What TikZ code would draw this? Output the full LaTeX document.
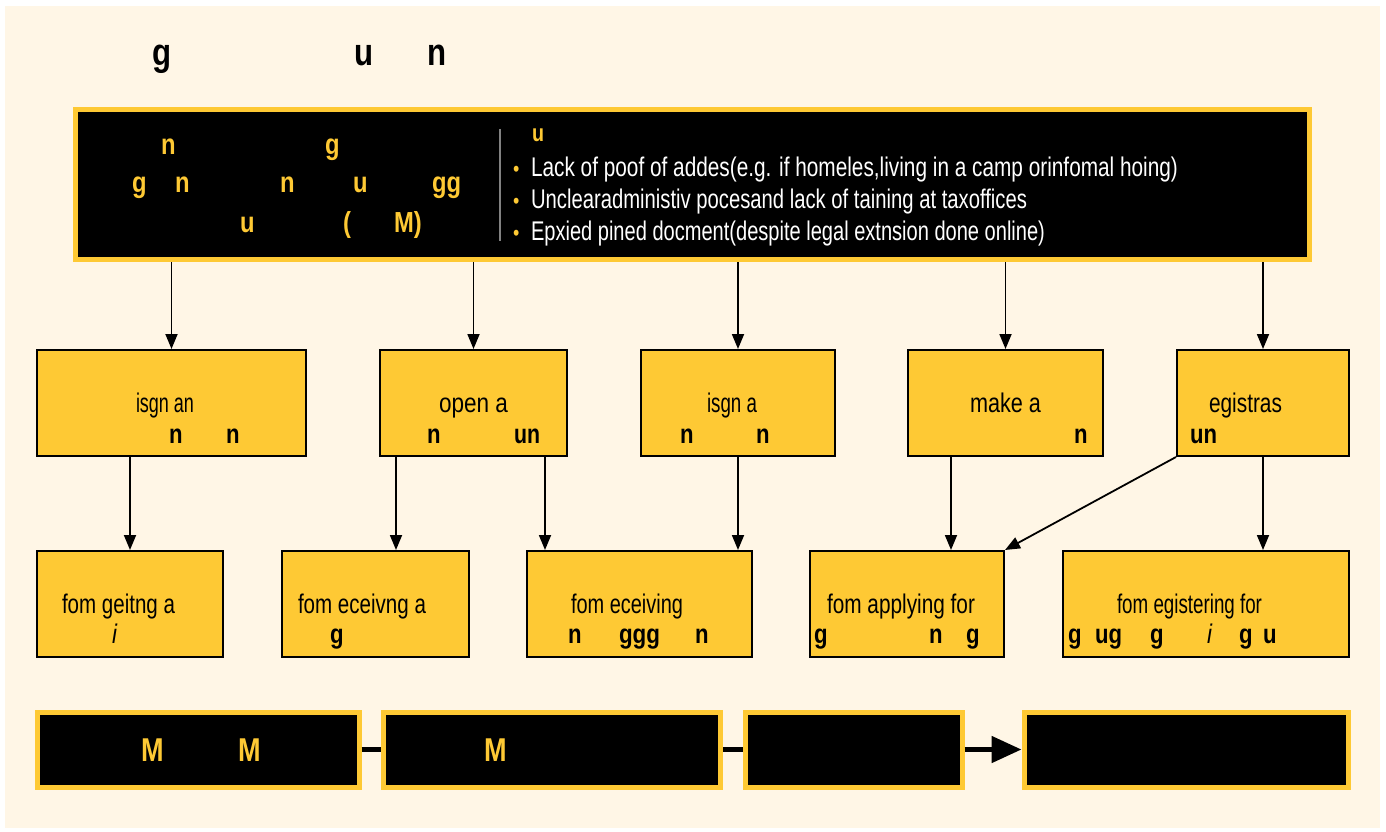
\documentclass[tikz,border=0pt]{standalone}
\usepackage{fontspec}
\usepackage{graphicx}
\setmainfont{Liberation Sans}[FakeStretch=0.82]
\usetikzlibrary{arrows.meta}
\definecolor{cream}{RGB}{255,246,230}
\definecolor{ylw}{RGB}{254,201,52}
\definecolor{sepgray}{RGB}{130,130,130}
\newcommand\fw[2]{\resizebox{#1pt}{\height}{#2}}
\tikzset{
  ybox/.style={draw=black, line width=2pt, fill=ylw, inner sep=0pt},
  kbox/.style={draw=ylw, line width=5pt, fill=black, inner sep=0pt},
  frag/.style={anchor=base west, inner sep=0pt, outer sep=0pt, font=\fontsize{27}{32}\selectfont},
  bfrag/.style={frag, font=\fontsize{27}{32}\selectfont\bfseries},
  yfrag/.style={bfrag, text=ylw, font=\fontsize{29}{32}\selectfont\bfseries},
  wfrag/.style={frag, text=white},
  tfrag/.style={anchor=base west, inner sep=0pt, font=\fontsize{38}{40}\selectfont\bfseries},
  mfrag/.style={anchor=base west, inner sep=0pt, text=ylw, font=\fontsize{33}{36}\selectfont\bfseries},
  arr/.style={line width=1.8pt, -{Triangle[length=15pt,width=12pt]}},
  bigarr/.style={line width=5pt, -{Triangle[length=30pt,width=26pt]}},
  bigline/.style={line width=5pt}
}
\begin{document}
\begin{tikzpicture}[x=1pt,y=-1pt]
\useasboundingbox (0,0) rectangle (1386,832);
\fill[white] (0,0) rectangle (1386,832);
\fill[cream] (5,6) rectangle (1380,828);

% title
\node[tfrag] (ti1) at (152,66) {g};
\node[tfrag] (ti2) at (354,66) {u};
\node[tfrag] (ti3) at (427,66) {n};

% top box
\node[kbox, minimum width=1234pt, minimum height=150pt] (top) at (692.5,184.5) {};
\draw[sepgray, line width=2pt] (500,129) -- (500,241);
\node[yfrag] (a1) at (161,154) {n};
\node[yfrag] (a2) at (325,154) {g};
\node[yfrag] (a3) at (132,192) {g};
\node[yfrag] (a4) at (175,192) {n};
\node[yfrag] (a5) at (280,192) {n};
\node[yfrag] (a6) at (353,192) {u};
\node[yfrag] (a7) at (432,192) {gg};
\node[yfrag] (a8) at (240,232) {u};
\node[yfrag] (a9) at (343,232) {(};
\node[yfrag] (a10) at (394,232) {M)};
\node[yfrag, font=\fontsize{24}{28}\selectfont\bfseries] (r0) at (532,142) {u};
\node[frag, text=ylw] (bl1) at (513,176) {\fontsize{22}{22}\selectfont•};
\node[frag, text=ylw] (bl2) at (513,208) {\fontsize{22}{22}\selectfont•};
\node[frag, text=ylw] (bl3) at (513,240) {\fontsize{22}{22}\selectfont•};
\node[wfrag] (r1) at (531,176) {\fw{647}{Lack of poof of addes(e.g. if homeles,living in a camp orinfomal hoing)}};
\node[wfrag] (r2) at (531,208) {\fw{496}{Unclearadministiv pocesand lack of taining at taxoffices}};
\node[wfrag] (r3) at (531,240) {\fw{514}{Epxied pined docment(despite legal extnsion done online)}};

% middle row
\node[ybox, minimum width=269pt, minimum height=106pt] (b1) at (171.5,403) {};
\node[ybox, minimum width=187pt, minimum height=106pt] (b2) at (473.5,403) {};
\node[ybox, minimum width=194pt, minimum height=106pt] (b3) at (738,403) {};
\node[ybox, minimum width=195pt, minimum height=106pt] (b4) at (1005.5,403) {};
\node[ybox, minimum width=172pt, minimum height=106pt] (b5) at (1263,403) {};

\node[frag] (m1) at (136,412) {\fw{58}{isgn an}};
\node[bfrag] (m1a) at (169,443) {n};
\node[bfrag] (m1b) at (226,443) {n};
\node[frag] (m2) at (439,412) {\fw{69}{open a}};
\node[bfrag] (m2a) at (427,443) {n};
\node[bfrag] (m2b) at (514,443) {\fw{26}{un}};
\node[frag] (m3) at (707,412) {\fw{50}{isgn a}};
\node[bfrag] (m3a) at (680,443) {n};
\node[bfrag] (m3b) at (756,443) {n};
\node[frag] (m4) at (970,412) {\fw{71}{make a}};
\node[bfrag] (m4a) at (1074,443) {n};
\node[frag] (m5) at (1209,412) {\fw{73}{egistras}};
\node[bfrag] (m5a) at (1190,443) {\fw{27}{un}};

% bottom row
\node[ybox, minimum width=186pt, minimum height=106pt] (c1) at (130,604) {};
\node[ybox, minimum width=187pt, minimum height=106pt] (c2) at (375.5,604) {};
\node[ybox, minimum width=225pt, minimum height=106pt] (c3) at (639.5,604) {};
\node[ybox, minimum width=194pt, minimum height=106pt] (c4) at (907,604) {};
\node[ybox, minimum width=286pt, minimum height=106pt] (c5) at (1206,604) {};

\node[frag] (n1) at (62,613) {\fw{113}{fom geitng a}};
\node[frag] (n1b) at (112,643) {\itshape i};
\node[frag] (n2) at (298,613) {\fw{128}{fom eceivng a}};
\node[bfrag] (n2b) at (330,643) {g};
\node[frag] (n3) at (571,613) {\fw{112}{fom eceiving}};
\node[bfrag] (n3a) at (568,643) {n};
\node[bfrag] (n3b) at (619,643) {\fw{41}{ggg}};
\node[bfrag] (n3c) at (695,643) {n};
\node[frag] (n4) at (827,613) {\fw{148}{fom applying for}};
\node[bfrag] (n4a) at (814,643) {g};
\node[bfrag] (n4b) at (929,643) {n};
\node[bfrag] (n4c) at (966,643) {g};
\node[frag] (n5) at (1117,613) {\fw{145}{fom egistering for}};
\node[bfrag] (n5a) at (1068,643) {g};
\node[bfrag] (n5b) at (1095,643) {\fw{27}{ug}};
\node[bfrag] (n5c) at (1150,643) {g};
\node[frag] (n5d) at (1207,643) {\itshape i};
\node[bfrag] (n5e) at (1239,643) {g};
\node[bfrag] (n5f) at (1263,643) {u};

% bottom bar
\node[kbox, minimum width=322pt, minimum height=75pt] (d1) at (198,749.5) {};
\node[kbox, minimum width=337pt, minimum height=75pt] (d2) at (552,749.5) {};
\node[kbox, minimum width=217pt, minimum height=75pt] (d3) at (853.5,749.5) {};
\node[kbox, minimum width=324pt, minimum height=75pt] (d4) at (1186,749.5) {};
\node[mfrag] (p1) at (141,761) {M};
\node[mfrag] (p2) at (238,761) {M};
\node[mfrag] (p3) at (484,761) {M};

% connectors
\draw[arr] (top.south -| b1.north) -- (b1.north);
\draw[arr] (top.south -| b2.north) -- (b2.north);
\draw[arr] (top.south -| b3.north) -- (b3.north);
\draw[arr] (top.south -| b4.north) -- (b4.north);
\draw[arr] (top.south -| b5.north) -- (b5.north);

\coordinate (k1) at (396,0);
\coordinate (k2) at (545,0);
\coordinate (k3) at (951,0);
\draw[arr] (b1.south -| c1.north) -- (c1.north);
\draw[arr] (b2.south -| k1) -- (c2.north -| k1);
\draw[arr] (b2.south -| k2) -- (c3.north -| k2);
\draw[arr] (b3.south) -- (c3.north -| b3.south);
\draw[arr] (b4.south -| k3) -- (c4.north -| k3);
\draw[arr] (b5.south west) -- (c4.north east);
\draw[arr] (b5.south) -- (c5.north -| b5.south);

\draw[bigline] (d1.east) -- (d2.west);
\draw[bigline] (d2.east) -- (d3.west);
\draw[bigarr] (d3.east) -- (d4.west);
\end{tikzpicture}
\end{document}
